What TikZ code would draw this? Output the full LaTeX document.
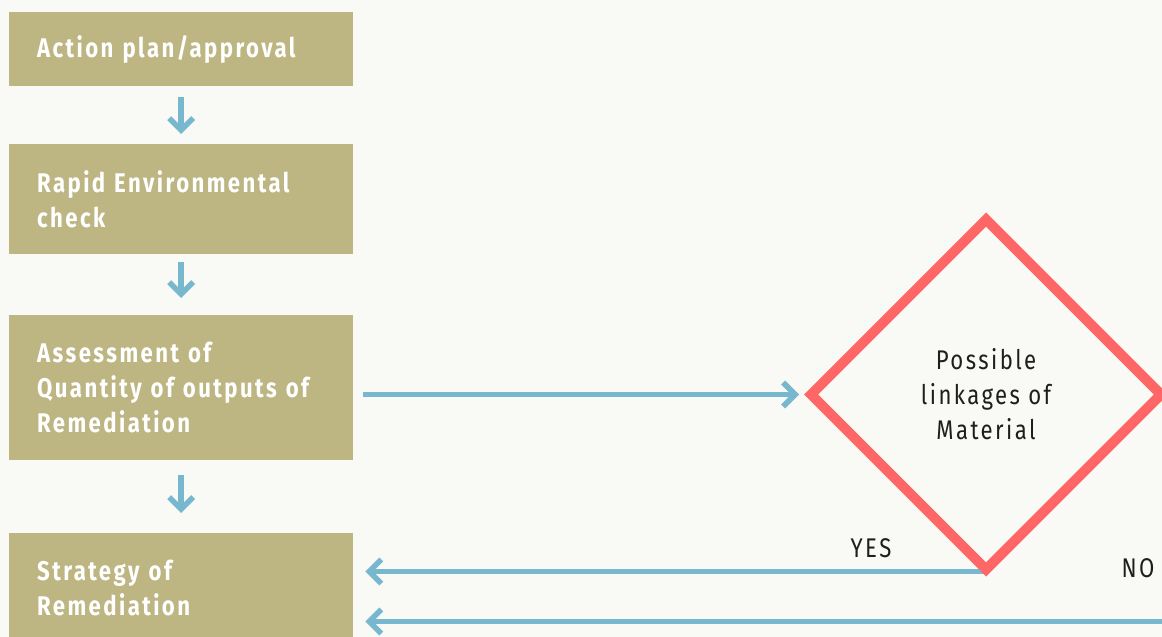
\documentclass[tikz,border=0pt]{standalone}
\usepackage{fontspec}
\setmainfont{Fira Sans}
\newfontfamily\flowfont[FakeStretch=0.82,LetterSpace=9]{Fira Sans}
\usetikzlibrary{arrows.meta,shapes.geometric,calc}

\definecolor{paper}{HTML}{F9F9F5}
\definecolor{khaki}{HTML}{BDB582}
\definecolor{flowblue}{HTML}{78B8CF}
\definecolor{alert}{HTML}{FF6666}
\definecolor{ink}{HTML}{1E1E1E}

\pgfdeclarelayer{back}
\pgfdeclarelayer{links}
\pgfsetlayers{back,links,main}

\tikzset{
  stepbox/.style={fill=khaki, draw=none, anchor=north west,
    minimum width=344pt, text width=288pt, inner xsep=28pt, inner ysep=0pt,
    align=left, text=white,
    font=\flowfont\bfseries\fontsize{27}{35}\selectfont},
  decision/.style={diamond, aspect=1, draw=alert, line width=10pt,
    minimum width=354pt, minimum height=354pt, inner sep=0pt,
    align=center, text=ink,
    font=\flowfont\fontsize{27}{35}\selectfont},
  flow/.style={draw=flowblue, line width=5.5pt,
    -{Straight Barb[length=12pt,width=24pt]}},
  answer/.style={text=ink, inner sep=0pt, anchor=base,
    font=\flowfont\fontsize{27}{35}\selectfont}
}

\begin{document}
\begin{tikzpicture}[x=1pt,y=-1pt]
  \useasboundingbox (0,0) rectangle (1162,637);
  \clip (0,0) rectangle (1162,637);
  \begin{pgfonlayer}{back}
    \fill[paper] (0,0) rectangle (1162,637);
  \end{pgfonlayer}

  % process steps down the left column
  \node[stepbox, minimum height=74pt]  (plan)     at (9,12)  {Action plan/approval};
  \node[stepbox, minimum height=110pt] (rapid)    at (9,144) {Rapid Environmental\\check};
  \node[stepbox, minimum height=145pt] (assess)   at (9,315) {Assessment of\\Quantity of outputs of\\Remediation};
  \node[stepbox, minimum height=110pt] (strategy) at (9,533) {Strategy of\\Remediation};

  % decision
  \node[decision] (link) at (986,394.5) {Possible\\linkages of\\Material};

  % answers
  \node[answer] (yes) at (871,557) {YES};
  \node[answer] (no)  at (1138,577) {NO};

  \coordinate (noend) at (1175,621.5);

  \begin{pgfonlayer}{links}
    \draw[flow] ([yshift=-11pt]plan.south) -- ([yshift=10pt]rapid.north);
    \draw[flow] ([yshift=-8pt]rapid.south) -- ([yshift=17pt]assess.north);
    \draw[flow] ([yshift=-15pt]assess.south) -- ([yshift=20pt]strategy.north);
    \draw[flow] ($(assess.east |- link.center)+(10,0)$) -- ($(link.west)+(-5,0)$);
    \draw[flow] (link.center |- 0,571.5) -- ($(strategy.east |- 0,571.5)+(12,0)$);
    \draw[flow] (noend) -- ($(strategy.east |- noend)+(12,0)$);
  \end{pgfonlayer}
\end{tikzpicture}
\end{document}
